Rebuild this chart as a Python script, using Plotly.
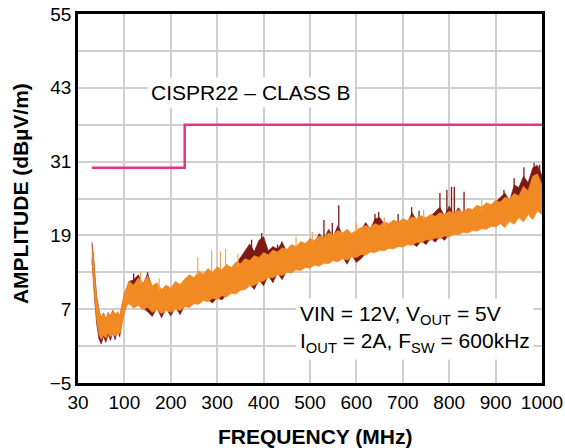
import plotly.graph_objects as go

# ---------------- data ----------------
FREQ = [30, 33, 36, 40, 45, 50, 55, 60, 65, 70, 75, 80, 85, 90, 95, 100, 105, 110,
        120, 130, 140, 150, 160, 170, 180, 190, 200, 210, 220, 230, 240, 250, 260,
        270, 280, 290, 300, 310, 320, 330, 340, 350, 360, 370, 380, 390, 400, 410,
        420, 430, 440, 450, 460, 470, 480, 490, 500, 510, 520, 530, 540, 550, 560,
        570, 580, 590, 600, 610, 620, 630, 640, 650, 660, 670, 680, 690, 700, 710,
        720, 730, 740, 750, 760, 770, 780, 790, 800, 810, 820, 830, 840, 850, 860,
        870, 880, 890, 900, 910, 920, 930, 940, 950, 960, 970, 980, 990, 1000]

# average-detector trace (orange): upper / lower envelope of the noisy band
AVG_UPPER = [17.2, 15.5, 12.5, 9.0, 6.8, 5.6, 6.3, 5.4, 6.5, 5.8, 6.9, 6.0, 6.6, 5.9, 7.8, 9.6, 10.5, 11.6,
             10.9, 12.1, 11.2, 12.4, 10.8, 11.3, 10.2, 10.9, 10.4, 11.5, 11.0, 11.9, 12.6, 12.1, 13.2,
             12.7, 13.6, 13.0, 13.9, 13.4, 14.3, 13.8, 14.6, 14.4, 15.2, 14.9, 15.7, 15.4, 16.2, 15.8,
             16.6, 16.3, 17.0, 16.7, 17.5, 17.2, 18.0, 17.7, 18.5, 18.2, 18.9, 18.6, 19.4, 19.1, 19.8,
             19.4, 20.0, 19.3, 19.9, 20.2, 20.6, 20.3, 20.9, 20.6, 21.2, 20.9, 21.5, 21.1, 21.7, 21.4,
             22.0, 21.7, 22.2, 21.9, 22.4, 22.1, 22.7, 22.4, 22.9, 22.6, 23.1, 22.8, 23.4, 23.2, 23.9,
             23.6, 24.3, 24.0, 24.7, 24.4, 25.2, 24.9, 25.8, 25.4, 27.0, 26.2, 28.6, 29.0, 27.2]
AVG_LOWER = [15.5, 12.5, 9.0, 5.5, 3.0, 2.1, 2.8, 2.3, 3.1, 2.5, 3.0, 2.6, 3.2, 3.0, 4.6, 6.4, 7.6, 7.9,
             7.2, 7.6, 6.9, 7.3, 6.5, 6.9, 6.3, 6.8, 6.5, 7.0, 6.8, 7.4, 7.3, 7.9, 7.8,
             8.4, 8.2, 8.8, 8.6, 9.2, 9.0, 9.6, 9.5, 10.1, 10.2, 10.8, 10.9, 11.5, 11.6, 12.2,
             12.1, 12.6, 12.5, 13.0, 12.9, 13.4, 13.3, 13.8, 13.7, 14.2, 14.0, 14.5, 14.4, 14.9, 14.7,
             15.2, 15.0, 15.5, 15.4, 15.9, 15.8, 16.3, 16.2, 16.6, 16.5, 16.9, 16.8, 17.2, 17.1, 17.5,
             17.4, 17.9, 17.8, 18.3, 18.2, 18.6, 18.5, 18.9, 18.8, 19.2, 19.1, 19.5, 19.4, 19.8, 19.7,
             20.1, 20.0, 20.5, 20.4, 20.9, 20.3, 21.3, 20.8, 21.9, 21.2, 22.4, 21.6, 23.0, 22.4]

# peak-detector trace (dark red): upper / lower envelope (mostly hidden behind the orange)
PEAK_UPPER = [17.9, 16.0, 13.0,
              9.2, 6.9, 5.5, 6.4, 5.3, 6.4, 5.9, 6.8, 6.1, 6.4, 5.8, 7.6,
              9.5, 10.4, 11.5, 11.8, 12.6, 11.0, 12.8,
              10.5, 11.0, 9.9, 10.6, 10.1, 11.2, 10.7, 11.6, 12.3, 11.8, 12.9, 12.4, 13.3, 12.7, 13.6,
              13.1, 14.0, 13.5,
              14.3, 15.4, 16.4, 17.6, 16.4, 18.2, 18.8, 16.5, 17.2, 16.8, 17.9, 16.4,
              17.2, 16.9, 17.7, 17.4, 18.2, 17.9,
              19.3, 18.3, 20.0, 18.8, 20.6, 19.1,
              19.7, 19.0, 19.6, 19.9,
              21.1, 20.0, 21.7, 21.9, 20.9,
              20.6, 21.2, 20.8, 21.4, 21.1, 22.7, 21.4, 21.9, 21.6,
              22.1, 22.9, 23.6, 22.1, 23.8, 22.3, 23.5, 22.5,
              23.1, 22.9, 23.6, 23.3, 24.0, 23.7,
              24.4, 25.2, 25.9, 24.6, 27.2, 26.8, 28.6, 27.6, 30.0, 30.4, 28.8]
PEAK_LOWER = [15.0, 12.0, 8.5,
              4.8, 2.2, 1.3, 2.6, 1.6, 2.9, 1.9, 3.3, 2.0, 3.5, 2.5, 4.9,
              6.7, 7.9, 8.2, 7.5, 7.9, 7.2,
              6.6, 5.8, 7.2, 5.6, 7.1, 5.9, 7.3, 6.1, 7.7,
              7.6, 8.2, 8.1, 8.7, 8.5, 8.0, 8.9, 8.5, 9.3, 9.9, 9.8, 10.4, 10.5, 11.1,
              10.2, 11.8, 10.8, 12.5, 11.3, 12.9, 11.8, 13.3,
              13.2, 13.7, 13.6, 14.1, 14.0, 14.5, 14.3, 14.8, 14.7, 15.2, 15.0, 15.5,
              14.3, 15.8, 14.6, 15.2, 16.1,
              16.6, 16.5, 16.9, 16.8, 17.2, 17.1, 17.5, 17.4, 17.8, 17.7,
              17.2, 18.1, 17.5, 18.5, 17.9, 18.8, 18.2, 19.1,
              19.5, 19.4, 19.8, 19.7, 20.1, 20.0, 20.4, 20.3, 20.8, 20.7, 21.2, 20.6, 21.6, 21.1,
              22.2, 21.5, 22.7, 21.9, 23.3, 22.7]

# narrow spikes of the peak trace: frequency, base and top (dBuV/m)
PEAK_SPIKE_F = [120, 150, 374, 384, 396, 404, 430, 439, 530, 548, 562, 640, 648, 690, 719, 735,
                780, 795, 805, 811, 832, 918, 940, 961, 983, 995]
PEAK_SPIKE_LO = [11.0, 11.5, 15.0, 15.2, 15.5, 15.8, 16.2, 16.5, 18.5, 18.8, 19.4, 20.5, 20.6, 21.0, 21.8, 21.8,
                 22.4, 22.5, 22.6, 22.6, 22.8, 25.0, 25.6, 26.5, 28.0, 28.0]
PEAK_SPIKE_HI = [12.8, 13.0, 18.3, 17.0, 19.4, 17.5, 17.5, 18.0, 21.5, 21.0, 23.9, 22.5, 22.8, 22.5, 23.6, 23.0,
                 25.9, 26.4, 26.9, 26.9, 26.1, 26.4, 28.3, 30.1, 30.8, 30.5]

# narrow spikes of the average trace
AVG_SPIKE_F = [135, 175, 258, 288, 307, 318, 345, 470, 505, 600, 660, 745, 870]
AVG_SPIKE_LO = [11.0, 10.0, 12.5, 13.2, 13.5, 14.0, 14.0, 17.0, 18.0, 19.5, 20.5, 21.5, 23.0]
AVG_SPIKE_HI = [13.0, 12.0, 15.5, 16.6, 16.4, 16.8, 16.0, 18.8, 19.6, 21.0, 22.0, 23.2, 24.8]

# CISPR22 class B limit line
LIMIT_F = [30, 230, 230, 1000]
LIMIT_V = [30, 30, 37, 37]

X_TICKS = [0, 100, 200, 300, 400, 500, 600, 700, 800, 900, 1000]
X_TICK_TEXT = ["30", "100", "200", "300", "400", "500", "600", "700", "800", "900", "1000"]
Y_TICKS = [-5, 7, 19, 31, 43, 55]
Y_TICK_TEXT = ["\u22125", "7", "19", "31", "43", "55"]
Y_MINOR = [1, 13, 25, 37, 49]

assert len(FREQ) == len(AVG_UPPER) == len(AVG_LOWER) == len(PEAK_UPPER) == len(PEAK_LOWER)

# ---------------- styling ----------------
FONT = "Liberation Sans, Arial, Helvetica, sans-serif"
RED = "#7E1914"
ORANGE = "#F28A24"
PINK = "#E5338A"
GRID = "#CFCFCF"


def band(f, up, lo):
    return list(f) + list(reversed(f)), list(up) + list(reversed(lo))


def spikes(f, lo, hi):
    xs, ys = [], []
    for a, b, c in zip(f, lo, hi):
        xs += [a, a, None]
        ys += [b, c, None]
    return xs, ys


fig = go.Figure()

bx, by = band(FREQ, PEAK_UPPER, PEAK_LOWER)
fig.add_trace(go.Scatter(x=bx, y=by, fill="toself", fillcolor=RED, mode="lines",
                         line=dict(color=RED, width=0.6), hoverinfo="skip", showlegend=False))
sx, sy = spikes(PEAK_SPIKE_F, PEAK_SPIKE_LO, PEAK_SPIKE_HI)
fig.add_trace(go.Scatter(x=sx, y=sy, mode="lines", line=dict(color=RED, width=1.3),
                         hoverinfo="skip", showlegend=False))

bx, by = band(FREQ, AVG_UPPER, AVG_LOWER)
fig.add_trace(go.Scatter(x=bx, y=by, fill="toself", fillcolor=ORANGE, mode="lines",
                         line=dict(color=ORANGE, width=0.8), hoverinfo="skip", showlegend=False))
sx, sy = spikes(AVG_SPIKE_F, AVG_SPIKE_LO, AVG_SPIKE_HI)
fig.add_trace(go.Scatter(x=sx, y=sy, mode="lines", line=dict(color="#F5A55A", width=1.2),
                         hoverinfo="skip", showlegend=False))

fig.add_trace(go.Scatter(x=LIMIT_F, y=LIMIT_V, mode="lines", line=dict(color=PINK, width=2.5),
                         hoverinfo="skip", showlegend=False))

fig.add_annotation(x=372, y=42.3, xref="x", yref="y", xanchor="center", yanchor="middle",
                   text="CISPR22 \u2013 CLASS B",
                   showarrow=False, bgcolor="white", borderpad=3,
                   font=dict(family=FONT, size=21, color="black"))
fig.add_annotation(x=469, y=3.8, xref="x", yref="y", xanchor="left", yanchor="middle", align="left",
                   text="VIN = 12V, V<sub>OUT</sub> = 5V<br>I<sub>OUT</sub> = 2A, F<sub>SW</sub> = 600kHz",
                   showarrow=False, bgcolor="white", borderpad=3,
                   font=dict(family=FONT, size=21, color="black"))

fig.add_annotation(x=0.511, y=-0.146, xref="paper", yref="paper", xanchor="center", yanchor="middle",
                   text="<b>FREQUENCY (MHz)</b>",
                   showarrow=False, font=dict(family=FONT, size=21, color="black"))
fig.add_annotation(x=-0.125, y=0.512, xref="paper", yref="paper", xanchor="center", yanchor="middle",
                   text="<b>AMPLITUDE (dB\u00b5V/m)</b>",
                   textangle=-90, showarrow=False, font=dict(family=FONT, size=21, color="black"))

axis_common = dict(showgrid=True, gridcolor=GRID, gridwidth=1.5, zeroline=False,
                   showline=True, linecolor="black", linewidth=2.5, mirror=True, ticks="",
                   automargin=False, tickfont=dict(family=FONT, size=19, color="black"))

fig.update_xaxes(range=[0, 1000], tickmode="array", tickvals=X_TICKS, ticktext=X_TICK_TEXT,
                 **axis_common)
fig.update_yaxes(range=[-5, 55], tickmode="array", tickvals=Y_TICKS, ticktext=Y_TICK_TEXT,
                 minor=dict(tickvals=Y_MINOR, showgrid=True, gridcolor=GRID, gridwidth=1.5, ticks=""),
                 **axis_common)

fig.update_layout(width=565, height=448, margin=dict(l=78, r=23, t=14, b=65),
                  plot_bgcolor="white", paper_bgcolor="white",
                  font=dict(family=FONT, color="black"), showlegend=False)

fig.write_html("out.html", config={"displayModeBar": False},
               post_script="document.body.style.margin='0';document.body.style.padding='0';"
                           "document.body.style.overflow='hidden';")
